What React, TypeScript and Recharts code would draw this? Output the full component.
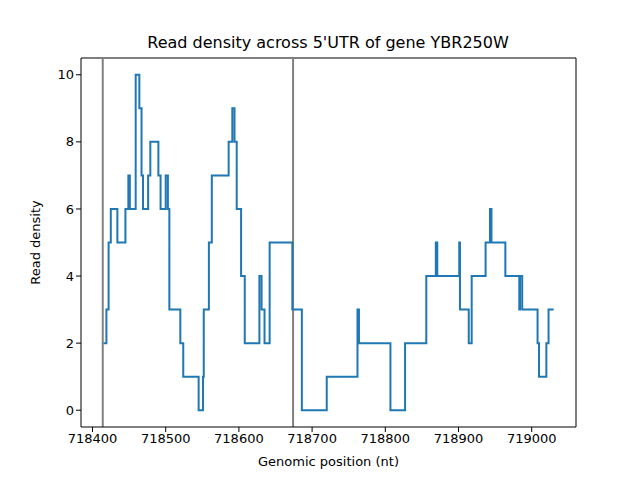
import { LineChart, Line, XAxis, YAxis, ReferenceLine } from 'recharts'

// step change points: position (nt) and read density from that position onward
const positions = [
  718415, 718419, 718422, 718425, 718434, 718445, 718449, 718451, 718459, 718464,
  718467, 718469, 718476, 718479, 718490, 718493, 718500, 718503, 718505, 718520,
  718524, 718545, 718551, 718552, 718559, 718563, 718586, 718591, 718594, 718597,
  718603, 718608, 718628, 718631, 718635, 718642, 718673, 718686, 718720, 718762,
  718764, 718807, 718827, 718856, 718869, 718871, 718901, 718902, 718914, 718918,
  718937, 718943, 718945, 718964, 718983, 718984, 718987, 719008, 719010, 719020,
  719023, 719030,
]
const density = [
  2, 3, 5, 6, 5, 6, 7, 6, 10, 9,
  7, 6, 7, 8, 7, 6, 7, 6, 3, 2,
  1, 0, 1, 3, 5, 7, 8, 9, 8, 6,
  4, 2, 4, 3, 2, 5, 3, 0, 1, 3,
  2, 0, 2, 4, 5, 4, 5, 3, 2, 4,
  5, 6, 5, 4, 3, 4, 3, 2, 1, 2,
  3, 3,
]
const utrBounds = [718414, 718674]
const xTicks = [718400, 718500, 718600, 718700, 718800, 718900, 719000]
const yTicks = [0, 2, 4, 6, 8, 10]
const xDomain = [718384.3, 719060.5]
const yDomain = [-0.5, 10.5]

const data = positions.map((p, i) => ({ pos: p, density: density[i] }))

const font = 'DejaVu Sans, sans-serif'
const tick = { fill: '#000', fontSize: 13, fontFamily: font }

export default function App() {
  return (
    <div style={{ position: 'absolute', left: 0, top: 0, width: 640, height: 480, background: '#fff' }}>
      <LineChart width={640} height={480} data={data} margin={{ top: 58, right: 64, bottom: 23, left: 21 }}>
        <text x={328} y={48} textAnchor="middle" fontSize={16} fontFamily={font} fill="#000">
          Read density across 5'UTR of gene YBR250W
        </text>
        <XAxis
          dataKey="pos"
          type="number"
          domain={xDomain}
          ticks={xTicks}
          allowDataOverflow
          height={30}
          tick={tick}
          tickLine={{ stroke: '#000' }}
          axisLine={{ stroke: '#000' }}
          tickSize={5}
          label={{ value: 'Genomic position (nt)', position: 'bottom', offset: 0, fontSize: 13, fontFamily: font, fill: '#000' }}
        />
        <YAxis
          type="number"
          domain={yDomain}
          ticks={yTicks}
          allowDataOverflow
          width={60}
          tick={tick}
          tickLine={{ stroke: '#000' }}
          axisLine={{ stroke: '#000' }}
          tickSize={5}
          label={{ value: 'Read density', angle: -90, position: 'insideLeft', offset: 14, fontSize: 13, fontFamily: font, fill: '#000', style: { textAnchor: 'middle' } }}
        />
        <ReferenceLine y={yDomain[1]} stroke="#000" ifOverflow="extendDomain" />
        <ReferenceLine x={xDomain[1]} stroke="#000" ifOverflow="extendDomain" />
        {utrBounds.map((b) => (
          <ReferenceLine key={b} x={b} stroke="#808080" strokeWidth={2} />
        ))}
        <Line type="stepAfter" dataKey="density" stroke="#1f77b4" strokeWidth={2} dot={false} isAnimationActive={false} />
      </LineChart>
    </div>
  )
}
